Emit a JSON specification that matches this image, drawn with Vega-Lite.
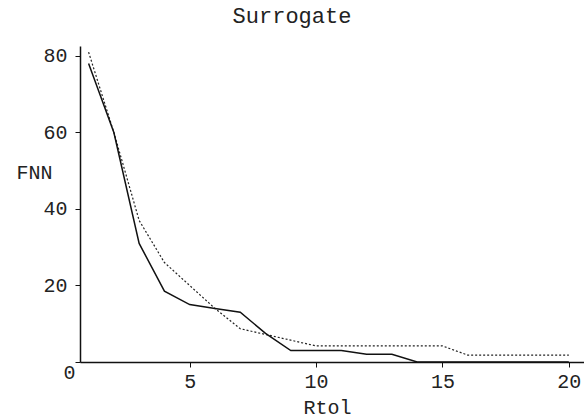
{
  "$schema": "https://vega.github.io/schema/vega-lite/v6.json",
  "autosize": "none",
  "padding": {"left": 80, "top": 46, "right": 0, "bottom": 57},
  "width": 504,
  "height": 316,
  "background": "white",
  "title": {
    "text": "Surrogate",
    "font": "Liberation Mono",
    "fontSize": 22,
    "fontWeight": "normal",
    "color": "#222",
    "baseline": "alphabetic",
    "offset": 1,
    "dx": -40
  },
  "data": {
    "values": [
      {"Rtol": 1, "FNN": 78, "series": "data"},
      {"Rtol": 2, "FNN": 60, "series": "data"},
      {"Rtol": 3, "FNN": 31, "series": "data"},
      {"Rtol": 4, "FNN": 18.5, "series": "data"},
      {"Rtol": 5, "FNN": 15, "series": "data"},
      {"Rtol": 6, "FNN": 14, "series": "data"},
      {"Rtol": 7, "FNN": 13, "series": "data"},
      {"Rtol": 8, "FNN": 7.5, "series": "data"},
      {"Rtol": 9, "FNN": 3, "series": "data"},
      {"Rtol": 10, "FNN": 3, "series": "data"},
      {"Rtol": 11, "FNN": 3, "series": "data"},
      {"Rtol": 12, "FNN": 2, "series": "data"},
      {"Rtol": 13, "FNN": 2, "series": "data"},
      {"Rtol": 14, "FNN": 0, "series": "data"},
      {"Rtol": 15, "FNN": 0, "series": "data"},
      {"Rtol": 16, "FNN": 0, "series": "data"},
      {"Rtol": 17, "FNN": 0, "series": "data"},
      {"Rtol": 18, "FNN": 0, "series": "data"},
      {"Rtol": 19, "FNN": 0, "series": "data"},
      {"Rtol": 20, "FNN": 0, "series": "data"},
      {"Rtol": 1, "FNN": 81, "series": "surrogate"},
      {"Rtol": 2, "FNN": 60, "series": "surrogate"},
      {"Rtol": 3, "FNN": 37, "series": "surrogate"},
      {"Rtol": 4, "FNN": 26, "series": "surrogate"},
      {"Rtol": 5, "FNN": 20, "series": "surrogate"},
      {"Rtol": 6, "FNN": 14, "series": "surrogate"},
      {"Rtol": 7, "FNN": 8.7, "series": "surrogate"},
      {"Rtol": 8, "FNN": 7.2, "series": "surrogate"},
      {"Rtol": 9, "FNN": 5.7, "series": "surrogate"},
      {"Rtol": 10, "FNN": 4.2, "series": "surrogate"},
      {"Rtol": 11, "FNN": 4.2, "series": "surrogate"},
      {"Rtol": 12, "FNN": 4.2, "series": "surrogate"},
      {"Rtol": 13, "FNN": 4.2, "series": "surrogate"},
      {"Rtol": 14, "FNN": 4.2, "series": "surrogate"},
      {"Rtol": 15, "FNN": 4.2, "series": "surrogate"},
      {"Rtol": 16, "FNN": 1.8, "series": "surrogate"},
      {"Rtol": 17, "FNN": 1.8, "series": "surrogate"},
      {"Rtol": 18, "FNN": 1.8, "series": "surrogate"},
      {"Rtol": 19, "FNN": 1.8, "series": "surrogate"},
      {"Rtol": 20, "FNN": 1.8, "series": "surrogate"}
    ]
  },
  "encoding": {
    "x": {
      "field": "Rtol",
      "type": "quantitative",
      "scale": {"domain": [0.66, 20.6], "nice": false, "zero": false},
      "axis": {
        "title": "Rtol",
        "values": [5, 10, 15, 20],
        "grid": false,
        "domainColor": "#111",
        "domainWidth": 1.5,
        "tickColor": "#111",
        "tickSize": 5,
        "labelFont": "Liberation Mono",
        "labelFontSize": 20,
        "labelColor": "#222",
        "labelPadding": 4,
        "titleFont": "Liberation Mono",
        "titleFontSize": 20,
        "titleFontWeight": "normal",
        "titleColor": "#222",
        "titleBaseline": "alphabetic",
        "titleAlign": "center",
        "titleX": 247,
        "titleY": 51
      }
    },
    "y": {
      "field": "FNN",
      "type": "quantitative",
      "scale": {"domain": [0, 82.6], "nice": false},
      "axis": {
        "title": "FNN",
        "values": [0, 20, 40, 60, 80],
        "grid": false,
        "domainColor": "#111",
        "domainWidth": 1.5,
        "tickColor": "#111",
        "tickSize": 5,
        "labelFont": "Liberation Mono",
        "labelFontSize": 20,
        "labelColor": "#222",
        "labelPadding": {"expr": "datum.value == 0 ? 0 : 8"},
        "labelBaseline": {"expr": "datum.value == 0 ? 'top' : 'middle'"},
        "labelOffset": 0,
        "titleFont": "Liberation Mono",
        "titleFontSize": 20,
        "titleFontWeight": "normal",
        "titleColor": "#222",
        "titleAngle": 0,
        "titleAlign": "center",
        "titleBaseline": "alphabetic",
        "titleX": -46,
        "titleY": 132
      }
    }
  },
  "layer": [
    {
      "transform": [{"filter": "datum.series == 'surrogate'"}],
      "mark": {"type": "line", "color": "#222", "strokeWidth": 1.2, "strokeDash": [2, 2]}
    },
    {
      "transform": [{"filter": "datum.series == 'data'"}],
      "mark": {"type": "line", "color": "#111", "strokeWidth": 1.5}
    }
  ],
  "config": {"view": {"stroke": null}}
}
